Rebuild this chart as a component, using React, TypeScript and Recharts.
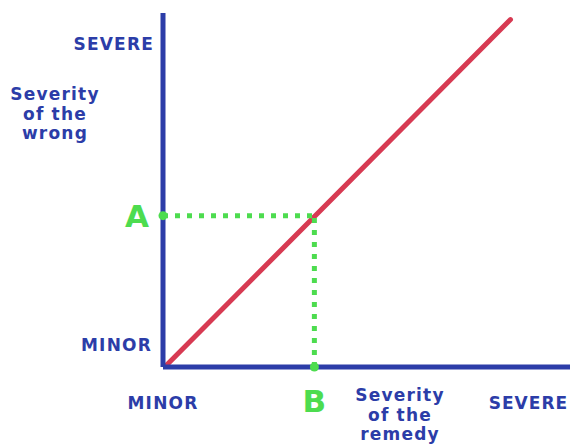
import { ComposedChart, Line, XAxis, YAxis, Label } from "recharts";

// units of "severity", both axes share one scale
const remedyLine = [
  { x: 0.1, y: 0.05 },
  { x: 10.1, y: 10.1 },
];
const pointA = 4.4;
const pointB = 4.4;

const guideA = [
  { x: 0, y: pointA },
  { x: pointB, y: pointA },
];
const guideB = [
  { x: pointB, y: 0 },
  { x: pointB, y: pointA },
];

const xTicks = [0, pointB, 10.7];
const xTickLabels = ["MINOR", "B", "SEVERE"];
const yTicks = [0, pointA, 9.4];
const yTickLabels = ["MINOR", "A", "SEVERE"];

const xTitle = ["Severity", "of the", "remedy"];
const yTitle = ["Severity", "of the", "wrong"];

const NAVY = "#2c3da8";
const RED = "#d73a52";
const GREEN = "#4ddc4f";
const FONT = "'DejaVu Sans', Verdana, sans-serif";

const XTick = (props: any) => {
  const { x, y, index } = props;
  const label = xTickLabels[index];
  const isLetter = label.length === 1;
  return (
    <text
      x={x}
      y={y + (isLetter ? 37 : 34)}
      textAnchor={index === 2 ? "end" : "middle"}
      dx={index === 2 ? 37 : 0}
      fill={isLetter ? GREEN : NAVY}
      fontSize={isLetter ? 31 : 17}
      letterSpacing={isLetter ? 0 : index === 2 ? 1 : 1.2}
      fontWeight="bold"
      fontFamily={FONT}
    >
      {label}
    </text>
  );
};

const YTick = (props: any) => {
  const { x, y, index } = props;
  const label = yTickLabels[index];
  const isLetter = label.length === 1;
  return (
    <text
      x={isLetter ? x - 18 : index === 0 ? x - 3 : x - 1}
      y={index === 0 ? y - 16 : y + (isLetter ? 11 : 6)}
      textAnchor={isLetter ? "middle" : "end"}
      fill={isLetter ? GREEN : NAVY}
      fontSize={isLetter ? 31 : 17}
      letterSpacing={isLetter ? 0 : 1.2}
      fontWeight="bold"
      fontFamily={FONT}
    >
      {label}
    </text>
  );
};

const titleLines = (lines: string[], cx: number, top: number) => (
  <text
    textAnchor="middle"
    fill={NAVY}
    fontSize={17}
    letterSpacing={1.2}
    fontWeight="bold"
    fontFamily={FONT}
  >
    {lines.map((l, i) => (
      <tspan key={i} x={cx} y={top + i * 19.5}>
        {l}
      </tspan>
    ))}
  </text>
);

const axisDot = (props: any) => {
  const { cx, cy, index } = props;
  if (index !== 0) return <g key={index} />;
  return <circle key={index} cx={cx} cy={cy} r={4.5} fill={GREEN} />;
};

export default function App() {
  return (
    <div style={{ position: "absolute", left: 0, top: 0, background: "#fff" }}>
      <ComposedChart width={570} height={445} margin={{ top: 13, right: 0, left: 0, bottom: 0 }}>
        <XAxis
          type="number"
          dataKey="x"
          domain={[0, 11.83]}
          ticks={xTicks}
          tick={<XTick />}
          tickLine={false}
          axisLine={{ stroke: NAVY, strokeWidth: 5 }}
          height={78}
        >
          <Label content={() => titleLines(xTitle, 400, 401)} />
        </XAxis>
        <YAxis
          type="number"
          dataKey="y"
          domain={[0, 10.29]}
          ticks={yTicks}
          tick={<YTick />}
          tickLine={false}
          axisLine={{ stroke: NAVY, strokeWidth: 5 }}
          width={163}
        >
          <Label content={() => titleLines(yTitle, 55, 100)} />
        </YAxis>
        <Line
          data={remedyLine}
          dataKey="y"
          stroke={RED}
          strokeWidth={5}
          strokeLinecap="round"
          dot={false}
          isAnimationActive={false}
        />
        <Line
          data={guideA}
          dataKey="y"
          stroke={GREEN}
          strokeWidth={5}
          strokeDasharray="5 7"
          dot={axisDot}
          activeDot={false}
          isAnimationActive={false}
        />
        <Line
          data={guideB}
          dataKey="y"
          stroke={GREEN}
          strokeWidth={5}
          strokeDasharray="5 7"
          dot={axisDot}
          activeDot={false}
          isAnimationActive={false}
        />
      </ComposedChart>
    </div>
  );
}
